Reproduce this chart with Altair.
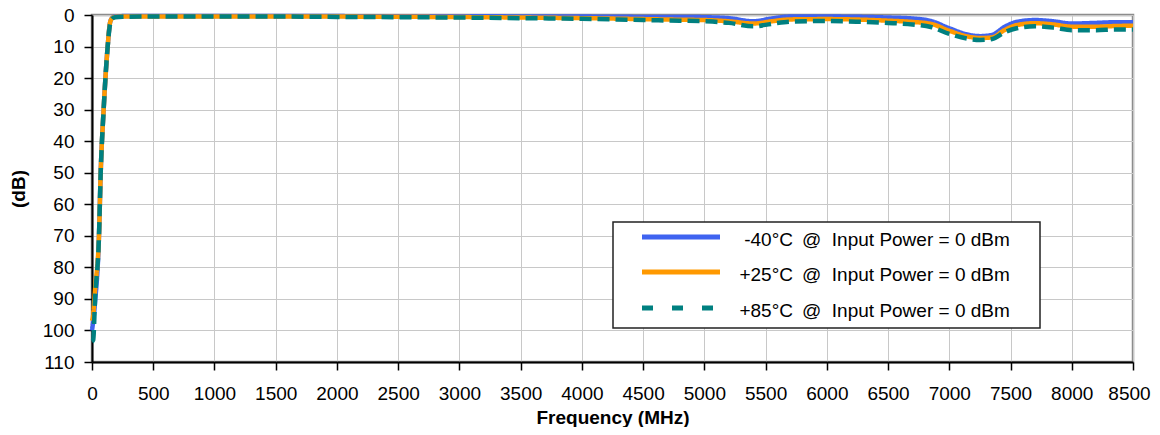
import altair as alt
import pandas as pd

series_names = [
    "-40°C @  Input Power = 0 dBm",
    "+25°C @  Input Power = 0 dBm",
    "+85°C @  Input Power = 0 dBm",
]
legend_temps = ["-40°C", "+25°C", "+85°C"]
legend_suffix = "@\u00a0\u00a0Input Power = 0 dBm"
series_colors = ["#3F63F0", "#FF9900", "#008080"]
series_dash = [[1, 0], [1, 0], [12, 6]]
legend_dash = [[1, 0], [1, 0], [11, 19]]

freq = [0, 10, 25, 57, 71, 95, 128, 147, 165, 188, 250, 500, 1000, 1500, 2000,
        2500, 3000, 3500, 4000, 4500, 4800, 5000, 5200, 5400, 5550, 5700, 6000,
        6300, 6500, 6700, 6850, 7000, 7150, 7250, 7350, 7450, 7550, 7700, 7850,
        8000, 8200, 8350, 8500]

db_m40 = [100, 97, 91, 70, 50, 30, 10, 2.5, 0.9, 0.5, 0.35, 0.3, 0.3, 0.3, 0.35,
          0.4, 0.4, 0.45, 0.5, 0.6, 0.6, 0.7, 1.0, 2.0, 1.1, 0.5, 0.5,
          0.6, 0.8, 1.1, 1.9, 4.2, 6.2, 6.7, 6.3, 3.8, 2.2, 1.6, 2.0,
          2.7, 2.5, 2.3, 2.3]
db_p25 = [97, 95, 87, 70, 50, 30, 10, 2.5, 1.0, 0.6, 0.5, 0.45, 0.45, 0.45, 0.5,
          0.55, 0.65, 0.8, 1.0, 1.3, 1.5, 1.6, 2.0, 2.7, 2.0, 1.4, 1.3,
          1.5, 1.8, 2.2, 2.8, 5.0, 6.8, 7.3, 7.1, 4.8, 3.2, 2.6, 3.0,
          3.7, 3.7, 3.5, 3.4]
db_p85 = [103.5, 103, 90, 70, 50, 30, 10, 3.0, 1.2, 0.7, 0.55, 0.5, 0.5, 0.5, 0.6,
          0.7, 0.8, 1.0, 1.2, 1.6, 1.8, 2.0, 2.5, 3.6, 2.8, 2.1, 1.9,
          2.2, 2.5, 3.0, 3.8, 6.0, 7.5, 7.9, 7.6, 5.5, 4.2, 3.6, 4.0,
          4.8, 4.8, 4.6, 4.6]

x_ticks = list(range(0, 8501, 500))
y_ticks = list(range(0, 111, 10))

rows = []
for name, vals in zip(series_names, [db_m40, db_p25, db_p85]):
    for f, v in zip(freq, vals):
        rows.append({"Frequency": f, "dB": v, "Series": name})
df = pd.DataFrame(rows)

FONT = "Liberation Sans"

lines = alt.Chart(df).mark_line(interpolate="monotone", strokeWidth=4.5).encode(
    x=alt.X("Frequency:Q",
            scale=alt.Scale(domain=[0, 8500], nice=False),
            axis=alt.Axis(values=x_ticks, title="Frequency (MHz)", format="d",
                          labelFontSize=19, titleFontSize=19, tickSize=8,
                          labelPadding=14, titlePadding=5, labelOverlap=False,
                          labelFlush=False,
                          labelOffset={"condition": {"test": "datum.value == 8500", "value": -4},
                                       "value": 0})),
    y=alt.Y("dB:Q",
            scale=alt.Scale(domain=[0, 110], reverse=True, nice=False),
            axis=alt.Axis(values=y_ticks, title="(dB)", format="d",
                          labelFontSize=19, titleFontSize=19, tickSize=8,
                          labelPadding=10, titlePadding=14, labelOverlap=False,
                          labelFlush=False)),
    color=alt.Color("Series:N",
                    scale=alt.Scale(domain=series_names, range=series_colors),
                    legend=None),
    strokeDash=alt.StrokeDash("Series:N",
                              scale=alt.Scale(domain=series_names, range=series_dash),
                              legend=None),
    order=alt.Order("Frequency:Q"),
)

one = pd.DataFrame({"k": [0]})
layers = [lines]
layers.append(alt.Chart(one).mark_rect(fill="white", stroke="#222222", strokeWidth=1.5).encode(
    x=alt.value(521), x2=alt.value(948), y=alt.value(207), y2=alt.value(313)))
row_y = [222, 257, 293]
for i in range(3):
    layers.append(alt.Chart(one).mark_rule(strokeWidth=5, color=series_colors[i],
                                           strokeDash=legend_dash[i], strokeCap="butt").encode(
        x=alt.value(550), x2=alt.value(628), y=alt.value(row_y[i])))
    layers.append(alt.Chart(one).mark_text(align="right", baseline="middle", fontSize=19,
                                           font=FONT, color="black").encode(
        x=alt.value(701), y=alt.value(row_y[i] + 3), text=alt.value(legend_temps[i])))
    layers.append(alt.Chart(one).mark_text(align="left", baseline="middle", fontSize=19,
                                           font=FONT, color="black").encode(
        x=alt.value(710), y=alt.value(row_y[i] + 3), text=alt.value(legend_suffix)))

chart = alt.layer(*layers).properties(
    width=1041, height=347,
    autosize=alt.AutoSizeParams(type="none"),
    padding={"left": 84, "top": 7, "right": 19, "bottom": 65},
).configure_view(
    stroke="#8c8c8c", strokeWidth=2.5,
).configure_axis(
    labelFont=FONT, titleFont=FONT, labelColor="black", titleColor="black",
    titleFontWeight="bold", domainColor="black", domainWidth=2,
    tickColor="black", tickWidth=1.5, gridColor="#c8c8c8", gridWidth=1,
)

chart.save("out.html", embed_options={"renderer": "svg", "actions": False})
